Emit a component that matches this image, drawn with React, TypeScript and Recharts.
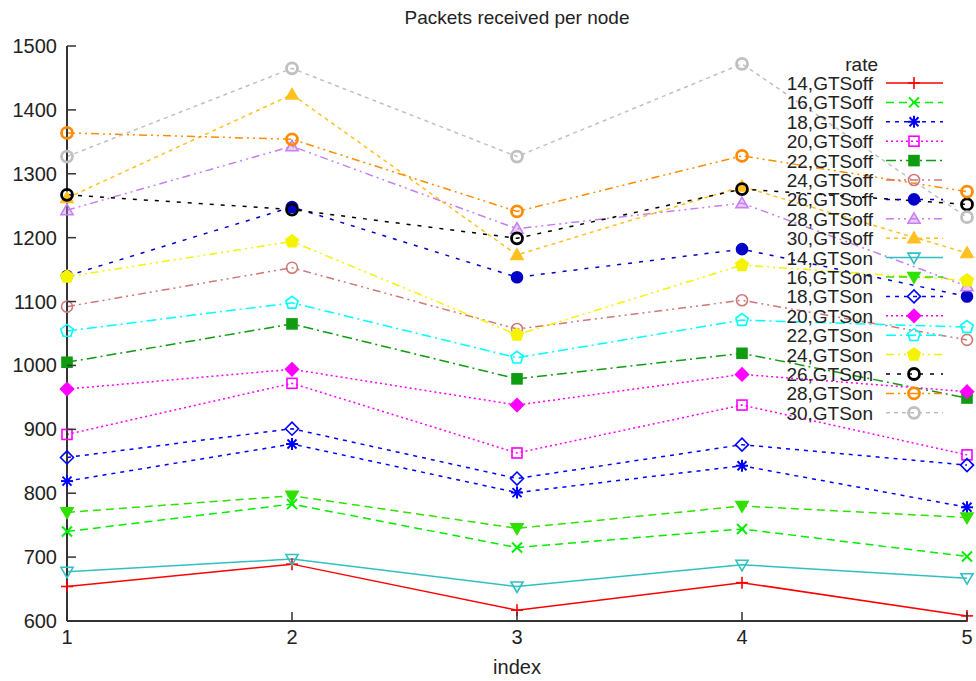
import { LineChart, Line, XAxis, YAxis, Legend } from 'recharts';

const indices = [1, 2, 3, 4, 5];
const yTicks = [600, 700, 800, 900, 1000, 1100, 1200, 1300, 1400, 1500];

const off14 = [654, 689, 617, 660, 608];
const off16 = [740, 783, 715, 744, 701];
const off18 = [819, 877, 801, 843, 778];
const off20 = [892, 972, 863, 938, 860];
const off22 = [1005, 1065, 979, 1019, 949];
const off24 = [1092, 1153, 1057, 1102, 1040];
const off26 = [1140, 1248, 1138, 1182, 1108];
const off28 = [1243, 1343, 1214, 1254, 1124];
const off30 = [1262, 1424, 1173, 1280, 1176];
const on14 = [677, 697, 654, 688, 667];
const on16 = [770, 796, 745, 780, 762];
const on18 = [856, 901, 823, 876, 844];
const on20 = [963, 994, 938, 986, 959];
const on22 = [1054, 1098, 1012, 1071, 1060];
const on24 = [1139, 1194, 1048, 1157, 1133];
const on26 = [1267, 1244, 1199, 1276, 1252];
const on28 = [1364, 1354, 1241, 1328, 1272];
const on30 = [1327, 1465, 1327, 1472, 1232];

type Shape =
  | 'plus' | 'cross' | 'star' | 'square' | 'squareFill' | 'circle' | 'circleFill'
  | 'triangle' | 'triangleFill' | 'invTriangle' | 'invTriangleFill'
  | 'diamond' | 'diamondFill' | 'pentagon' | 'pentagonFill' | 'ring';

interface Series {
  key: string;
  name: string;
  values: number[];
  color: string;
  dash?: string;
  shape: Shape;
}

const series: Series[] = [
  { key: 'off14', name: '14,GTSoff', values: off14, color: '#ff0000', shape: 'plus' },
  { key: 'off16', name: '16,GTSoff', values: off16, color: '#00ee00', dash: '8 5', shape: 'cross' },
  { key: 'off18', name: '18,GTSoff', values: off18, color: '#0000ff', dash: '4 5', shape: 'star' },
  { key: 'off20', name: '20,GTSoff', values: off20, color: '#ff00ff', dash: '2 3', shape: 'square' },
  { key: 'off22', name: '22,GTSoff', values: off22, color: '#109c10', dash: '10 4 2 4', shape: 'squareFill' },
  { key: 'off24', name: '24,GTSoff', values: off24, color: '#d07878', dash: '8 4 2 4 2 4', shape: 'circle' },
  { key: 'off26', name: '26,GTSoff', values: off26, color: '#0000c8', dash: '4 7', shape: 'circleFill' },
  { key: 'off28', name: '28,GTSoff', values: off28, color: '#c880f0', dash: '8 4 2 4 2 4', shape: 'triangle' },
  { key: 'off30', name: '30,GTSoff', values: off30, color: '#ffc020', dash: '4 4', shape: 'triangleFill' },
  { key: 'on14', name: '14,GTSon', values: on14, color: '#30c0c0', shape: 'invTriangle' },
  { key: 'on16', name: '16,GTSon', values: on16, color: '#30e000', dash: '8 5', shape: 'invTriangleFill' },
  { key: 'on18', name: '18,GTSon', values: on18, color: '#0000ff', dash: '4 5', shape: 'diamond' },
  { key: 'on20', name: '20,GTSon', values: on20, color: '#ff00ff', dash: '2 3', shape: 'diamondFill' },
  { key: 'on22', name: '22,GTSon', values: on22, color: '#00ffff', dash: '10 4 2 4', shape: 'pentagon' },
  { key: 'on24', name: '24,GTSon', values: on24, color: '#f4f400', dash: '8 4 2 4 2 4', shape: 'pentagonFill' },
  { key: 'on26', name: '26,GTSon', values: on26, color: '#000000', dash: '4 7', shape: 'ring' },
  { key: 'on28', name: '28,GTSon', values: on28, color: '#ff8c00', dash: '8 4 2 4 2 4', shape: 'ring' },
  { key: 'on30', name: '30,GTSon', values: on30, color: '#c0c0c0', dash: '4 4', shape: 'ring' },
];

const data = indices.map((index, i) => {
  const row: Record<string, number> = { index };
  series.forEach((s) => {
    row[s.key] = s.values[i];
  });
  return row;
});

const FONT = '"Liberation Sans", Arial, sans-serif';
const AXIS = '#333333';
const TXT = 20;
const LEG = 19;

function polygon(cx: number, cy: number, r: number, n: number, rot: number) {
  const pts: string[] = [];
  for (let k = 0; k < n; k++) {
    const a = rot + (k * 2 * Math.PI) / n;
    pts.push(`${cx + r * Math.cos(a)},${cy + r * Math.sin(a)}`);
  }
  return pts.join(' ');
}

function Marker({ cx, cy, shape, color }: { cx: number; cy: number; shape: Shape; color: string }) {
  const sw = 1.6;
  switch (shape) {
    case 'plus':
      return (
        <g stroke={color} strokeWidth={sw}>
          <line x1={cx - 6} y1={cy} x2={cx + 6} y2={cy} />
          <line x1={cx} y1={cy - 6} x2={cx} y2={cy + 6} />
        </g>
      );
    case 'cross':
      return (
        <g stroke={color} strokeWidth={sw + 0.4}>
          <line x1={cx - 5} y1={cy - 5} x2={cx + 5} y2={cy + 5} />
          <line x1={cx - 5} y1={cy + 5} x2={cx + 5} y2={cy - 5} />
        </g>
      );
    case 'star':
      return (
        <g stroke={color} strokeWidth={sw + 0.4}>
          <line x1={cx - 6} y1={cy} x2={cx + 6} y2={cy} />
          <line x1={cx} y1={cy - 6} x2={cx} y2={cy + 6} />
          <line x1={cx - 4.5} y1={cy - 4.5} x2={cx + 4.5} y2={cy + 4.5} />
          <line x1={cx - 4.5} y1={cy + 4.5} x2={cx + 4.5} y2={cy - 4.5} />
        </g>
      );
    case 'square':
    case 'squareFill':
      return (
        <rect x={cx - 5} y={cy - 5} width={10} height={10}
          fill={shape === 'squareFill' ? color : 'none'} stroke={color} strokeWidth={sw} />
      );
    case 'circle':
    case 'circleFill':
      return (
        <circle cx={cx} cy={cy} r={5.5}
          fill={shape === 'circleFill' ? color : 'none'} stroke={color} strokeWidth={sw} />
      );
    case 'ring':
      return <circle cx={cx} cy={cy} r={5.5} fill="none" stroke={color} strokeWidth={2.8} />;
    case 'triangle':
    case 'triangleFill':
      return (
        <polygon points={polygon(cx, cy + 1, 7, 3, -Math.PI / 2)}
          fill={shape === 'triangleFill' ? color : color + '66'} stroke={color} strokeWidth={sw} />
      );
    case 'invTriangle':
    case 'invTriangleFill':
      return (
        <polygon points={polygon(cx, cy - 1, 7, 3, Math.PI / 2)}
          fill={shape === 'invTriangleFill' ? color : 'none'} stroke={color} strokeWidth={sw} />
      );
    case 'diamond':
    case 'diamondFill':
      return (
        <polygon points={polygon(cx, cy, 6.5, 4, 0)}
          fill={shape === 'diamondFill' ? color : 'none'} stroke={color} strokeWidth={sw} />
      );
    case 'pentagon':
    case 'pentagonFill':
      return (
        <polygon points={polygon(cx, cy, 6.5, 5, -Math.PI / 2)}
          fill={shape === 'pentagonFill' ? color : 'none'} stroke={color} strokeWidth={sw} />
      );
    default:
      return null;
  }
}

const BottomTick = (props: any) => {
  const { x, y, payload } = props;
  return (
    <g>
      <line x1={x} y1={y} x2={x} y2={y - 9} stroke={AXIS} strokeWidth={1.5} />
      <text x={x} y={y + 23} textAnchor="middle" fontSize={TXT} fontFamily={FONT} fill="#222">
        {payload.value}
      </text>
    </g>
  );
};

const TopTick = (props: any) => {
  const { x, y } = props;
  return <line x1={x} y1={y} x2={x} y2={y + 9} stroke={AXIS} strokeWidth={1.5} />;
};

const LeftTick = (props: any) => {
  const { x, y, payload } = props;
  return (
    <g>
      <line x1={x} y1={y} x2={x + 9} y2={y} stroke={AXIS} strokeWidth={1.5} />
      <text x={x - 10} y={y + 7} textAnchor="end" fontSize={TXT} fontFamily={FONT} fill="#222">
        {payload.value}
      </text>
    </g>
  );
};

const RightTick = (props: any) => {
  const { x, y } = props;
  return <line x1={x} y1={y} x2={x - 9} y2={y} stroke={AXIS} strokeWidth={1.5} />;
};

const renderLegend = () => (
  <svg width={210} height={380} style={{ display: 'block' }}>
    <text x={118} y={21} textAnchor="end" fontSize={LEG} fontFamily={FONT} fill="#222">rate</text>
    {series.map((s, i) => {
      const cy = 33 + i * 19.4;
      return (
        <g key={s.key}>
          <text x={113} y={cy + 7} textAnchor="end" fontSize={LEG} fontFamily={FONT} fill="#222">
            {s.name}
          </text>
          <line x1={126} y1={cy} x2={183} y2={cy} stroke={s.color} strokeWidth={1.5}
            strokeDasharray={s.dash} />
          <Marker cx={154} cy={cy} shape={s.shape} color={s.color} />
        </g>
      );
    })}
  </svg>
);

export default function App() {
  return (
    <div style={{ position: 'absolute', left: 0, top: 0, width: 976, height: 681, background: '#fff' }}>
      <div style={{ position: 'absolute', left: 0, top: 7, width: 1034, textAlign: 'center',
        fontFamily: FONT, fontSize: 19, color: '#222' }}>
        Packets received per node
      </div>
      <LineChart width={976} height={681} data={data} margin={{ top: 46, right: 9, bottom: 0, left: 0 }}>
        <XAxis dataKey="index" type="number" domain={[1, 5]} ticks={indices} height={60}
          tickSize={0} tickMargin={0} tickLine={false} tick={<BottomTick />}
          axisLine={{ stroke: AXIS, strokeWidth: 2 }}
          label={{ value: 'index', position: 'insideBottom', offset: 7, fontSize: TXT, fontFamily: FONT, fill: '#222' }} />
        <XAxis xAxisId="top" orientation="top" type="number" domain={[1, 5]} ticks={indices} height={0}
          tickSize={0} tickMargin={0} tickLine={false} tick={<TopTick />}
          axisLine={{ stroke: AXIS, strokeWidth: 2 }} />
        <YAxis type="number" domain={[600, 1500]} ticks={yTicks} width={67}
          tickSize={0} tickMargin={0} tickLine={false} tick={<LeftTick />}
          axisLine={{ stroke: AXIS, strokeWidth: 2 }} />
        <YAxis yAxisId="right" orientation="right" type="number" domain={[600, 1500]} ticks={yTicks} width={0}
          tickSize={0} tickMargin={0} tickLine={false} tick={<RightTick />}
          axisLine={{ stroke: AXIS, strokeWidth: 2 }} />
        <Legend layout="horizontal" verticalAlign="middle" align="center" width={210} height={380}
          wrapperStyle={{ left: 760, top: 50 }} content={renderLegend} />
        {series.map((s) => (
          <Line key={s.key} dataKey={s.key} name={s.name} type="linear" stroke={s.color}
            strokeWidth={1.5} strokeDasharray={s.dash} isAnimationActive={false} activeDot={false}
            dot={(p: any) => <Marker key={`${s.key}-${p.index}`} cx={p.cx} cy={p.cy} shape={s.shape} color={s.color} />} />
        ))}
      </LineChart>
    </div>
  );
}
